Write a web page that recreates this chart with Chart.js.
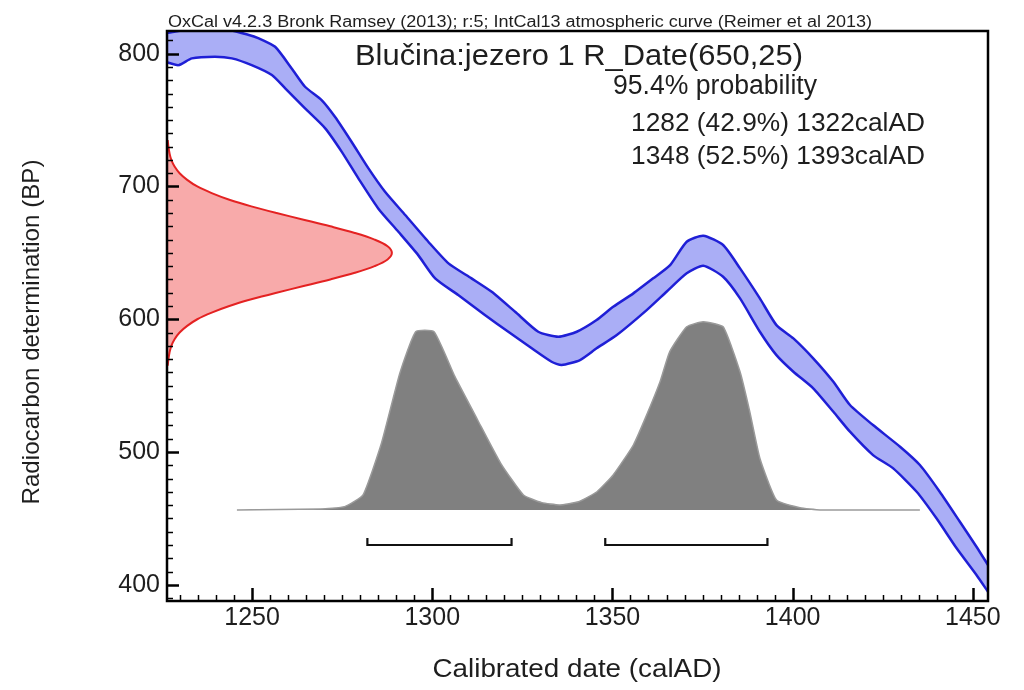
<!DOCTYPE html>
<html>
<head>
<meta charset="utf-8">
<title>Blučina:jezero 1 R_Date(650,25)</title>
<script src="https://cdn.jsdelivr.net/npm/chart.js@4.4.1/dist/chart.umd.min.js"></script>
<style>
  html, body { margin: 0; padding: 0; background: #fff; }
  #wrap { width: 1024px; height: 690px; position: relative; }
</style>
</head>
<body>
<div id="wrap"><canvas id="chart"></canvas></div>
<script>
// IntCal13 curve, upper and lower edge of the band
let curveUpperDate = [1225.9, 1231.4, 1237.0, 1242.5, 1248.9, 1251.7, 1256.4, 1261.0, 1264.7, 1269.3, 1273.0, 1277.6, 1282.3, 1286.9, 1292.5, 1298.9, 1304.5, 1310.9, 1316.5, 1323.0, 1329.4, 1335.0, 1340.1, 1345.6, 1350.2, 1355.8, 1361.3, 1366.0, 1370.6, 1375.2, 1380.7, 1385.4, 1390.9, 1395.5, 1400.2, 1405.7, 1411.3, 1415.9, 1422.3, 1429.8, 1435.3, 1440.8, 1446.4, 1451.0, 1454.2];
let curveUpperBP = [815.3, 817.8, 818.5, 818.5, 814.3, 811.8, 805.2, 788.9, 775.1, 765.1, 752.5, 733.7, 713.6, 696.0, 678.5, 658.4, 642.1, 630.8, 620.7, 605.6, 590.6, 586.8, 590.6, 599.4, 609.4, 619.5, 630.8, 640.8, 658.4, 662.9, 655.9, 638.3, 615.7, 595.6, 585.6, 570.6, 552.9, 535.4, 520.3, 504.0, 490.2, 470.1, 447.5, 428.7, 414.9];
let curveLowerDate = [1225.9, 1229.6, 1233.3, 1239.7, 1244.4, 1249.9, 1255.5, 1259.2, 1264.7, 1270.3, 1274.9, 1279.5, 1285.0, 1290.6, 1296.1, 1300.8, 1307.2, 1314.6, 1321.1, 1327.6, 1333.1, 1335.9, 1341.0, 1345.6, 1351.2, 1359.5, 1365.0, 1370.6, 1375.2, 1380.7, 1385.4, 1390.9, 1395.5, 1400.2, 1405.7, 1411.3, 1415.9, 1422.3, 1427.9, 1434.4, 1439.9, 1445.5, 1451.0, 1454.2];
let curveLowerBP = [793.9, 791.4, 796.5, 797.7, 796.5, 791.4, 783.9, 773.9, 758.8, 743.8, 726.1, 706.1, 683.5, 665.9, 648.3, 630.8, 618.2, 603.2, 590.6, 578.1, 568.0, 565.5, 569.3, 578.1, 588.1, 606.9, 620.7, 634.6, 640.3, 632.0, 615.7, 590.6, 573.0, 560.5, 548.0, 530.3, 515.3, 497.7, 487.7, 470.1, 450.1, 427.5, 407.4, 394.8];

// the measurement 650 +/- 25 BP, drawn sideways along the BP axis
let measBP = [565, 570, 575, 580, 585, 590, 595, 600, 605, 610, 615, 620, 625, 630, 635, 640, 645, 650, 655, 660, 665, 670, 675, 680, 685, 690, 695, 700, 705, 710, 715, 720, 725, 730, 735];
let measDate = [1226.6, 1226.8, 1227.1, 1227.6, 1228.5, 1229.9, 1232.0, 1234.8, 1238.8, 1243.7, 1249.8, 1256.8, 1264.3, 1271.7, 1278.5, 1284.0, 1287.6, 1288.8, 1287.6, 1284.0, 1278.5, 1271.7, 1264.3, 1256.8, 1249.8, 1243.7, 1238.8, 1234.8, 1232.0, 1229.9, 1228.5, 1227.6, 1227.1, 1226.8, 1226.6];

// calibrated date, relative probability
let calDate = [1245.8, 1268.9, 1275.7, 1280.8, 1285.9, 1291.0, 1295.4, 1300.5, 1306.3, 1312.6, 1319.0, 1325.3, 1330.4, 1335.3, 1340.6, 1345.7, 1350.2, 1355.8, 1359.5, 1363.2, 1365.9, 1370.6, 1375.2, 1380.7, 1385.4, 1388.1, 1390.9, 1395.5, 1402.0, 1407.6, 1435.3];
let calProb = [0, 0.005, 0.018, 0.08, 0.354, 0.726, 0.947, 0.947, 0.708, 0.478, 0.248, 0.08, 0.039, 0.027, 0.044, 0.097, 0.186, 0.345, 0.505, 0.681, 0.841, 0.973, 1.0, 0.973, 0.734, 0.522, 0.275, 0.053, 0.012, 0, 0];

// 95.4% ranges
let rangeFrom = [1282, 1348];
let rangeTo = [1322, 1393];
let rangePct = ['42.9%', '52.5%'];

let xTickValues = [1250, 1300, 1350, 1400, 1450];
let yTickValues = [400, 500, 600, 700, 800];

let headerText = 'OxCal v4.2.3 Bronk Ramsey (2013); r:5; IntCal13 atmospheric curve (Reimer et al 2013)';
let titleText = 'Blučina:jezero 1 R_Date(650,25)';
let probText = '95.4% probability';
let xTitle = 'Calibrated date (calAD)';
let yTitle = 'Radiocarbon determination (BP)';

let fontFamily = '"Liberation Sans", Arial, sans-serif';

let pairs = function(xs, ys) {
  return xs.map(function(x, i) { return {x: x, y: ys[i]}; });
};

// text squeezed/stretched to the width it has in the picture
let fitText = function(ctx, text, x, y, size, width, align, angle) {
  ctx.save();
  ctx.font = size + 'px ' + fontFamily;
  ctx.textAlign = align;
  ctx.textBaseline = 'alphabetic';
  let sx = width / ctx.measureText(text).width;
  ctx.translate(x, y);
  if (angle) { ctx.rotate(angle); }
  ctx.scale(sx, 1);
  ctx.fillText(text, 0, 0);
  ctx.restore();
};

let oxcalFrame = {
  id: 'oxcalFrame',
  afterDraw: function(chart) {
    let ctx = chart.ctx;
    let area = chart.chartArea;
    let xs = chart.scales.x;
    let ys = chart.scales.y;
    ctx.save();
    ctx.strokeStyle = '#000';

    // inward ticks, minor every 5 years / 10 BP
    for (let v = Math.ceil(xs.min / 5) * 5; v <= xs.max; v += 5) {
      let major = v % 50 == 0;
      let px = Math.round(xs.getPixelForValue(v)) + 0.5;
      ctx.lineWidth = major ? 2.5 : 1.5;
      ctx.beginPath();
      ctx.moveTo(px, area.bottom);
      ctx.lineTo(px, area.bottom - (major ? 13 : 6));
      ctx.stroke();
    }
    for (let v = Math.ceil(ys.min / 10) * 10; v <= ys.max; v += 10) {
      let major = v % 100 == 0;
      let py = Math.round(ys.getPixelForValue(v)) + 0.5;
      ctx.lineWidth = major ? 2.5 : 1.5;
      ctx.beginPath();
      ctx.moveTo(area.left, py);
      ctx.lineTo(area.left + (major ? 12 : 6), py);
      ctx.stroke();
    }

    ctx.lineWidth = 2.5;
    ctx.strokeRect(area.left, area.top, area.right - area.left, area.bottom - area.top);

    ctx.fillStyle = '#1e1e1e';
    fitText(ctx, headerText, 168, 26.5, 16, 704, 'left');
    fitText(ctx, titleText, 355, 64.5, 29, 448, 'left');
    fitText(ctx, probText, 613, 94, 27, 204, 'left');
    for (let i = 0; i < rangeFrom.length; i++) {
      let line = rangeFrom[i] + ' (' + rangePct[i] + ') ' + rangeTo[i] + 'calAD';
      fitText(ctx, line, 631, 130.5 + i * 33.5, 26, 294, 'left');
    }
    fitText(ctx, xTitle, 577, 677, 26, 289, 'center');
    fitText(ctx, yTitle, 39, 332, 24, 345, 'center', -Math.PI / 2);
    ctx.restore();
  }
};

let datasets = [
  {
    label: 'IntCal13 upper',
    data: pairs(curveUpperDate, curveUpperBP),
    borderColor: '#1f1fd6',
    borderWidth: 2.5,
    tension: 0.2,
    fill: false
  },
  {
    label: 'IntCal13 lower',
    data: pairs(curveLowerDate, curveLowerBP),
    borderColor: '#1f1fd6',
    borderWidth: 2.5,
    tension: 0.2,
    backgroundColor: '#aaaef6',
    fill: '-1'
  },
  {
    label: 'R_Date(650,25)',
    data: pairs(measDate, measBP),
    borderColor: '#e42222',
    borderWidth: 2,
    tension: 0.35,
    backgroundColor: '#f8aaaa',
    fill: 'shape'
  },
  {
    label: 'calibrated',
    data: pairs(calDate, calProb),
    yAxisID: 'p',
    borderColor: '#9a9a9a',
    borderWidth: 1.5,
    tension: 0.15,
    backgroundColor: '#808080',
    fill: 'origin'
  }
];

// range brackets under the distribution
for (let i = 0; i < rangeFrom.length; i++) {
  datasets.push({
    label: 'range ' + (i + 1),
    data: [
      {x: rangeFrom[i], y: -0.149},
      {x: rangeFrom[i], y: -0.186},
      {x: rangeTo[i], y: -0.186},
      {x: rangeTo[i], y: -0.149}
    ],
    yAxisID: 'p',
    borderColor: '#111',
    borderWidth: 2.2,
    fill: false
  });
}

let tickFont = {family: '"Liberation Sans", Arial, sans-serif', size: 25};
let plainLabel = function(v) { return String(v); };

let chart = new Chart(document.getElementById('chart'), {
  type: 'line',
  data: {datasets: datasets},
  options: {
    responsive: true,
    maintainAspectRatio: false,
    animation: false,
    devicePixelRatio: 1,
    layout: {padding: {top: 31, right: 36, left: 0, bottom: 0}},
    elements: {point: {radius: 0}, line: {tension: 0}},
    plugins: {
      legend: {display: false},
      tooltip: {enabled: false},
      title: {display: false}
    },
    scales: {
      x: {
        type: 'linear',
        min: 1226.4,
        max: 1454.2,
        grid: {display: false, drawTicks: false, tickLength: 0},
        border: {display: false},
        ticks: {font: tickFont, color: '#1e1e1e', padding: 2, maxRotation: 0, autoSkip: false, callback: plainLabel},
        afterBuildTicks: function(s) { s.ticks = xTickValues.map(function(v) { return {value: v}; }); },
        afterFit: function(s) { s.height = 89; }
      },
      y: {
        type: 'linear',
        position: 'left',
        min: 387.8,
        max: 817.1,
        grid: {display: false, drawTicks: false, tickLength: 0},
        border: {display: false},
        ticks: {font: tickFont, color: '#1e1e1e', padding: 7, autoSkip: false, callback: plainLabel},
        afterBuildTicks: function(s) { s.ticks = yTickValues.map(function(v) { return {value: v}; }); },
        afterFit: function(s) { s.width = 167; }
      },
      p: {
        type: 'linear',
        axis: 'y',
        position: 'right',
        display: false,
        min: -0.4833,
        max: 2.5438
      }
    }
  },
  plugins: [oxcalFrame]
});
</script>
</body>
</html>
